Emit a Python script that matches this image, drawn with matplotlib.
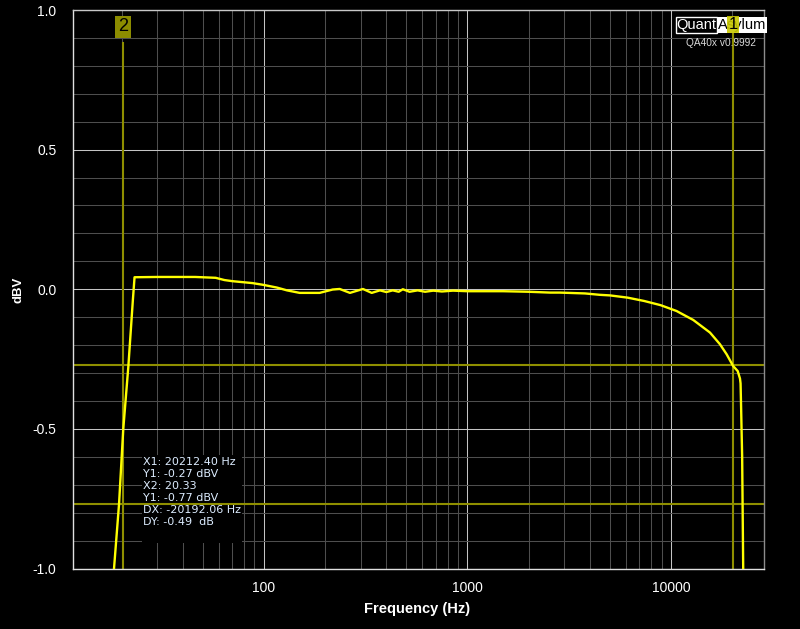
import matplotlib
matplotlib.use('Agg')
import matplotlib.pyplot as plt
from matplotlib.patches import Rectangle
from matplotlib.transforms import blended_transform_factory

# measured response (Hz, dBV)
freq_hz = [17.5, 18.37, 19.44, 20.4, 21.6, 22.75, 23.17, 30, 46, 58, 64, 70, 88, 99,
           116, 130, 150, 188, 218, 236, 265, 307, 339, 372, 400, 430, 460, 482, 520,
           570, 620, 680, 750, 850, 1000, 1500, 2000, 2550, 2850, 3786, 4483, 5020,
           6124, 7392, 8906, 10670, 12882, 15560, 17430, 18800, 20230, 21300, 21860,
           22000, 22110, 22400, 22700]
level_dbv = [-1.2, -1.0, -0.77, -0.5, -0.277, -0.036, 0.043, 0.044, 0.044, 0.041, 0.033,
             0.029, 0.022, 0.016, 0.006, -0.004, -0.013, -0.013, -0.001, 0.001, -0.013,
             0.001, -0.013, -0.004, -0.010, -0.004, -0.009, 0.000, -0.009, -0.004,
             -0.009, -0.005, -0.008, -0.005, -0.007, -0.007, -0.009, -0.012, -0.012,
             -0.015, -0.020, -0.022, -0.030, -0.042, -0.057, -0.078, -0.110, -0.155,
             -0.197, -0.233, -0.275, -0.293, -0.320, -0.337, -0.406, -0.60, -1.05]

# cursors
marker_names = ['1', '2']
marker_x = [20212.40, 20.33]
marker_y = [-0.27, -0.77]
readout = ['X1: 20212.40 Hz', 'Y1: -0.27 dBV', 'X2: 20.33', 'Y1: -0.77 dBV',
           'DX: -20192.06 Hz', 'DY: -0.49  dB']

x_major = [100, 1000, 10000]
x_major_labels = ['100', '1000', '10000']
x_minor = [20, 30, 40, 50, 60, 70, 80, 90, 200, 300, 400, 500, 600, 700, 800, 900,
           2000, 3000, 4000, 5000, 6000, 7000, 8000, 9000, 20000]
y_major = [-1.0, -0.5, 0.0, 0.5, 1.0]
y_major_labels = ['-1.0', '-0.5', '0.0', '0.5', '1.0']
y_minor = [-0.9, -0.8, -0.7, -0.6, -0.4, -0.3, -0.2, -0.1, 0.1, 0.2, 0.3, 0.4,
           0.6, 0.7, 0.8, 0.9]

W, H = 800, 629
plt.rcParams['font.family'] = ['Liberation Sans', 'DejaVu Sans']

fig = plt.figure(figsize=(W / 100, H / 100), dpi=100, facecolor='black')
ax = fig.add_axes([73 / W, 1 - 568.5 / H, 691 / W, 558.5 / H])
ax.set_facecolor('black')
ax.set_xscale('log')
ax.set_xlim(11.55, 28680)
ax.set_ylim(-1, 1)
ax.set_axisbelow(True)

ax.set_xticks(x_major)
ax.set_xticklabels(x_major_labels)
ax.set_xticks(x_minor, minor=True)
ax.set_xticklabels([], minor=True)
ax.set_yticks(y_major)
ax.set_yticklabels(y_major_labels)
ax.set_yticks(y_minor, minor=True)
ax.grid(which='major', color='#c4c4c4', lw=0.75)
ax.grid(which='minor', color='#4e4e4e', lw=0.75)
ax.tick_params(which='both', length=0, labelcolor='white', labelsize=10)
ax.tick_params(axis='x', pad=9)
ax.tick_params(axis='y', pad=12)

for side, c in [('left', '#e0e0e0'), ('bottom', '#e0e0e0'), ('top', '#c8c8c8'), ('right', '#8c8c8c')]:
    ax.spines[side].set_color(c)
    ax.spines[side].set_linewidth(1.0)

# readout box hides the grid behind it
ax.add_patch(Rectangle((0.0994, 0.045), 0.1447, 0.158, transform=ax.transAxes,
                       facecolor='black', edgecolor='none', zorder=1))

olive = '#8f8f00'
ax.axvline(marker_x[0], ymax=0.959, color=olive, lw=1.5, zorder=2)
ax.axvline(marker_x[1], ymax=0.941, color=olive, lw=1.5, zorder=2)
for yv in marker_y:
    ax.axhline(yv, color=olive, lw=1.5, zorder=2)

ax.plot(freq_hz, level_dbv, color='#ffff00', lw=1.7, zorder=3)

ax.text(0.101, 0.1997, '\n'.join(readout), transform=ax.transAxes, va='top', ha='left',
        fontsize=8, color='#dcecff', linespacing=1.26, family='DejaVu Sans', zorder=4)

# marker "2" flag
ax.text(marker_x[1], 0.9696, marker_names[1], transform=ax.get_xaxis_transform(),
        ha='center', va='center', fontsize=13, color='black', zorder=5, clip_on=False,
        bbox=dict(boxstyle='square,pad=0.15', fc='#8c8c00', ec='none'))

# QuantAsylum logo
def fx(x):
    return x / W

def fy(y):
    return 1 - y / H

fig.patches.append(Rectangle((fx(716.7), fy(33.3)), 50 / W, 16.6 / H, transform=fig.transFigure,
                             facecolor='white', edgecolor='none', zorder=5))
fig.patches.append(Rectangle((fx(675.5), fy(33.3)), 41.2 / W, 16.6 / H, transform=fig.transFigure,
                             facecolor='black', edgecolor='white', lw=1.0, zorder=5))
fig.text(fx(695.8), fy(25.5), 'Quant', ha='center', va='center', fontsize=10.5, color='white', zorder=6)
fig.text(fx(741.7), fy(25.5), 'Asylum', ha='center', va='center', fontsize=10.5, color='black', zorder=6)
fig.text(fx(720.7), fy(42.5), 'QA40x v0.9992', ha='center', va='center', fontsize=7.3,
         color='#d8d8d8', zorder=6)

# marker "1" flag sits over the logo, as in the reference
bt = blended_transform_factory(ax.transData, fig.transFigure)
fig.text(marker_x[0], fy(24.5), marker_names[0], transform=bt, ha='center', va='center',
         fontsize=12, color='black', zorder=7,
         bbox=dict(boxstyle='square,pad=0.08', fc='#c8c800', ec='none', alpha=0.9))

fig.text(fx(417), fy(609), 'Frequency (Hz)', ha='center', va='center', fontsize=10.5,
         fontweight='bold', color='white')
fig.text(fx(18), fy(290), 'dBV', ha='center', va='center', rotation=90, fontsize=9.5,
         fontweight='bold', color='white')

fig.savefig('out.png', dpi=100, facecolor='black')
